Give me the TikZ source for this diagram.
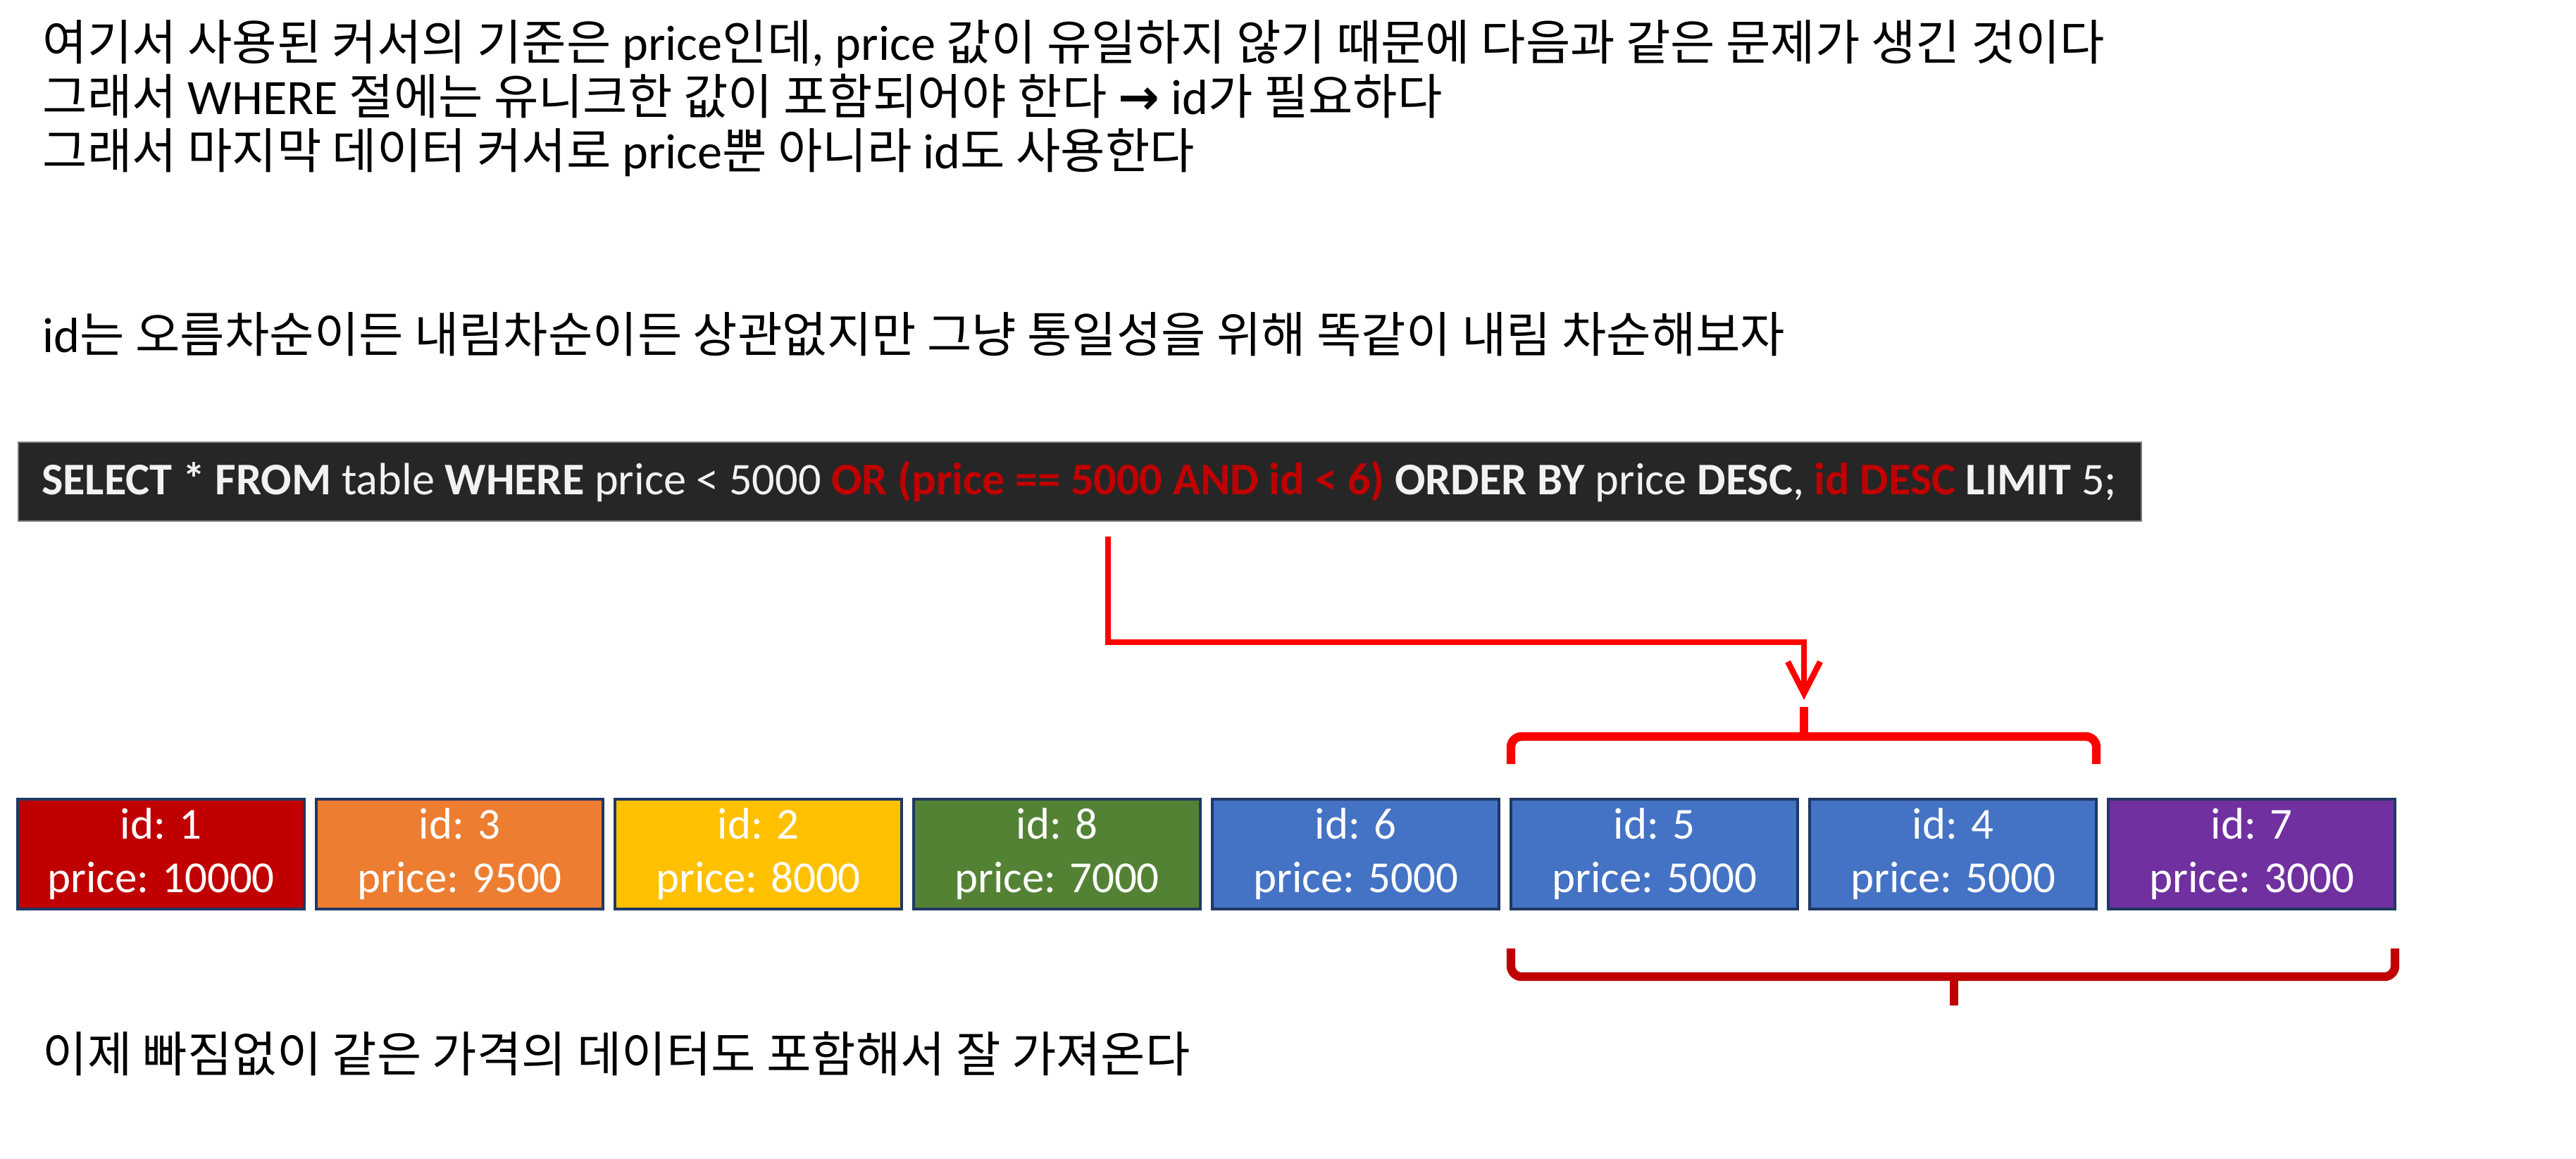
\documentclass[tikz,border=0pt]{standalone}
\usepackage{fontspec}
\setmainfont{Carlito}
\newfontfamily\krfont[Scale=0.98]{Noto Sans CJK KR}
\newfontfamily\symfont{DejaVu Sans}
\usetikzlibrary{arrows.meta, positioning}

\definecolor{rowred}{HTML}{C00000}
\definecolor{roworange}{HTML}{ED7D31}
\definecolor{rowyellow}{HTML}{FFC000}
\definecolor{rowgreen}{HTML}{548235}
\definecolor{rowblue}{HTML}{4472C4}
\definecolor{rowpurple}{HTML}{7030A0}
\definecolor{rowline}{HTML}{203864}
\definecolor{querybg}{HTML}{262626}
\definecolor{querytxt}{HTML}{F2F2F2}
\definecolor{hotred}{HTML}{FF0000}

\newcommand{\kr}[1]{{\krfont #1}}
\newcommand{\hl}[1]{\textcolor{rowred}{\textbf{#1}}}

\begin{document}
\begin{tikzpicture}[
    note/.style={anchor=base west, inner sep=0pt, font=\fontsize{20}{22}\selectfont},
    row/.style={rectangle, draw=rowline, line width=1.3pt, fill=#1, outer sep=0pt, inner sep=0pt, minimum width=4.07cm, minimum height=1.56cm, text=white, align=center, font=\fontsize{17.9}{21.6}\selectfont},
    query/.style={rectangle, fill=querybg, draw=gray, line width=0.6pt, inner xsep=0.33cm, inner ysep=0pt, minimum height=1.12cm, text width=29.48cm, align=flush left, text=querytxt, font=\fontsize{18.3}{21}\selectfont},
    arr/.style={-{Straight Barb[length=4.5mm, width=4.6mm, line width=2.4pt]}, hotred, line width=2.4pt},
    topbrace/.style={hotred, line width=3.5pt, rounded corners=1.5mm},
    lowbrace/.style={rowred, line width=3.5pt, rounded corners=1.5mm},
]
\useasboundingbox (0,0) rectangle (36.57,-16.45);

% ========== NOTES (top) ==========
\node[note] at (0.60,-0.85) (note1) {\kr{여기서 사용된 커서의 기준은} price\kr{인데}, price \kr{값이 유일하지 않기 때문에 다음과 같은 문제가 생긴 것이다}};
\node[note] at (0.60,-1.62) (note2) {\kr{그래서} WHERE \kr{절에는 유니크한 값이 포함되어야 한다} {\symfont\bfseries →} id\kr{가 필요하다}};
\node[note] at (0.60,-2.39) (note3) {\kr{그래서 마지막 데이터 커서로} price\kr{뿐 아니라} id\kr{도 사용한다}};
\node[note] at (0.60,-5.00) (note4) {id\kr{는 오름차순이든 내림차순이든 상관없지만 그냥 통일성을 위해 똑같이 내림 차순해보자}};

% ========== QUERY BAR ==========
\node[query] at (15.33,-6.84) (sql) {\textbf{SELECT * FROM} table \textbf{WHERE} price < 5000 \hl{OR (price == 5000 AND id < 6)} \textbf{ORDER BY} price \textbf{DESC}, \hl{id DESC} \textbf{LIMIT} 5;};

% ========== ROWS ==========
\node[row=rowred]    at (2.285,-12.13) (b1) {id: 1\\price: 10000};
\node[row=roworange] at (6.525,-12.13) (b2) {id: 3\\price: 9500};
\node[row=rowyellow] at (10.765,-12.13) (b3) {id: 2\\price: 8000};
\node[row=rowgreen]  at (15.005,-12.13) (b4) {id: 8\\price: 7000};
\node[row=rowblue]   at (19.245,-12.13) (b5) {id: 6\\price: 5000};
\node[row=rowblue]   at (23.485,-12.13) (b6) {id: 5\\price: 5000};
\node[row=rowblue]   at (27.725,-12.13) (b7) {id: 4\\price: 5000};
\node[row=rowpurple] at (31.965,-12.13) (b8) {id: 7\\price: 3000};

% ========== CURSOR ARROW + BRACES ==========
\coordinate (qfoot) at (15.73,-7.62);
\coordinate (seltip) at (25.61,-10.04);
\coordinate (gettip) at (27.74,-14.28);

\draw[arr] (qfoot) -- ++(0,-1.50) -| ([yshift=0.10cm]seltip);

% top brace over id 5, id 4
\draw[topbrace] ([yshift=0.50cm]b6.north west) -- ++(0,0.39) -| ([yshift=0.50cm]b7.north east);
\draw[topbrace] (seltip) -- ++(0,-0.42);

% bottom brace under id 5 .. id 7
\draw[lowbrace] ([yshift=-0.56cm]b6.south west) -- ++(0,-0.40) -| ([yshift=-0.56cm]b8.south east);
\draw[lowbrace] (gettip) -- ++(0,0.42);

% ========== RESULT NOTE ==========
\node[note] at (0.60,-15.22) (note5) {\kr{이제 빠짐없이 같은 가격의 데이터도 포함해서 잘 가져온다}};

\end{tikzpicture}
\end{document}
